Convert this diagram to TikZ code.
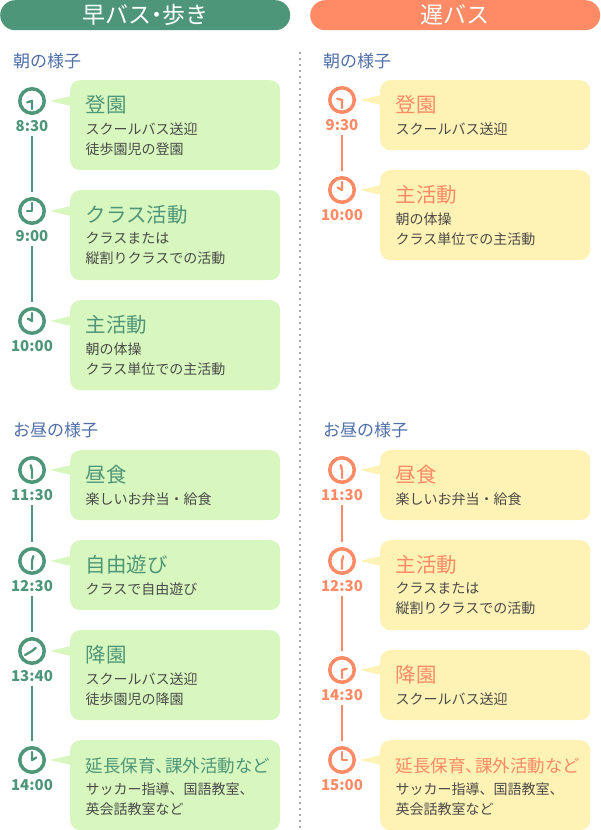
\documentclass[tikz,border=0pt]{standalone}
\usepackage{fontspec}
\setmainfont{Noto Sans CJK JP}
\usetikzlibrary{positioning,calc}

\definecolor{leafgreen}{HTML}{4E9679}
\definecolor{leafcard}{HTML}{D8F7BE}
\definecolor{salmon}{HTML}{FF8A66}
\definecolor{creamcard}{HTML}{FFF2B5}
\definecolor{sectionblue}{HTML}{4F6FA8}
\definecolor{bodygray}{HTML}{4A4A4A}
\definecolor{dotgray}{HTML}{A8A8A8}

% one time slot: name, clock y, card top, card height, hh, mm, time, title, text
\newcommand{\slot}[9]{
   \node[clock] (c#1) at (32,#2) {};
   \node[timelabel, below=2.5pt of c#1] (t#1) {#7};
   \node[card, minimum height=#4pt] (k#1) at (70,#3) {};
   \coordinate[left=20pt of k#1.west |- c#1] (p#1);
   \fill[cardfill] (p#1) -- ($(k#1.west |- c#1)+(1,-5)$) -- ($(k#1.west |- c#1)+(1,5)$) -- cycle;
   \node[cardtitle, anchor=west] (h#1) at ($(k#1.north west)+(15.5,27)$) {#8};
   \node[cardtext, below=5pt of h#1.south west, anchor=north west] (b#1) {#9};
   \draw[hand] ([shift={({90-30*#5-0.5*#6}:5pt)}]c#1.center) -- (c#1.center)
      -- ([shift={({90-6*#6}:8pt)}]c#1.center);
}
% the longest card title
\newcommand{\longtitle}{\fontsize{17.5}{18}\selectfont 延長保育、\kern-8pt 課外活動など}

\begin{document}
\begin{tikzpicture}[x=1pt,y=-1pt,
      clock/.style = {circle,draw=accent,line width=3.5pt,outer sep=0pt,minimum size=24.5pt,inner sep=0pt},
      timelabel/.style = {text=accent,font=\fontsize{15}{15}\selectfont\bfseries,minimum height=20pt,inner sep=0pt},
      card/.style = {fill=cardfill,rounded corners=10pt,minimum width=210pt,anchor=north west,inner sep=0pt},
      cardtitle/.style = {text=accent,font=\fontsize{20.5}{20}\selectfont,inner sep=0pt,text height=15pt,text depth=5pt},
      cardtext/.style = {text=bodygray,font=\fontsize{14}{20}\selectfont,inner sep=0pt,align=left,text depth=3pt},
      pill/.style = {fill=accent,text=white,font=\fontsize{23}{23}\selectfont,rounded corners=15pt,
         minimum width=290pt,minimum height=30pt,inner sep=0pt,anchor=north west},
      sectionhead/.style = {text=sectionblue,font=\fontsize{17}{17}\selectfont,inner sep=0pt,anchor=west},
      link/.style = {draw=accent,line width=2pt,shorten >=6.5pt},
      hand/.style = {draw=accent,line width=2.3pt,line cap=round,line join=round},
      divider/.style = {draw=dotgray,line width=2pt,dash pattern=on 2pt off 4pt}]

   \useasboundingbox (0,0) rectangle (600,830);

   % divider between the two columns
   \coordinate (divtop) at (300,52);
   \coordinate (divbot) at (300,830);
   \draw[divider] (divtop) -- (divbot);

   % early bus and walking
   \begin{scope}
      \colorlet{accent}{leafgreen}
      \colorlet{cardfill}{leafcard}
      \node[pill] (early) at (0,0) {早バス\kern-6pt ・\kern-6pt 歩き};
      \node[sectionhead] (earlyam) at (13,61) {朝の様子};
      \node[sectionhead] (earlypm) at (13,430) {お昼の様子};

      \slot{830}{101}{80}{90}{8}{30}{8:30}{登園}{スクールバス送迎\\徒歩園児の登園}
      \slot{900}{211}{190}{90}{9}{0}{9:00}{クラス活動}{クラスまたは\\縦割りクラスでの活動}
      \slot{1000}{321}{300}{90}{10}{0}{10:00}{主活動}{朝の体操\\クラス単位での主活動}
      \slot{1130}{470}{450}{70}{11}{30}{11:30}{昼食}{楽しいお弁当・給食}
      \slot{1230}{561}{540}{70}{12}{30}{12:30}{自由遊び}{クラスで自由遊び}
      \slot{1340}{651}{630}{90}{13}{40}{13:40}{降園}{スクールバス送迎\\徒歩園児の降園}
      \slot{1400}{760}{740}{90}{14}{0}{14:00}{\longtitle}{サッカー指導、国語教室、\\英会話教室など}

      \draw[link] (t830) -- (c900);
      \draw[link] (t900) -- (c1000);
      \draw[link] (t1130) -- (c1230);
      \draw[link] (t1230) -- (c1340);
      \draw[link] (t1340) -- (c1400);
   \end{scope}

   % late bus
   \begin{scope}[xshift=310pt]
      \colorlet{accent}{salmon}
      \colorlet{cardfill}{creamcard}
      \node[pill] (late) at (0,0) {遅バス};
      \node[sectionhead] (lateam) at (13,61) {朝の様子};
      \node[sectionhead] (latepm) at (13,430) {お昼の様子};

      \slot{r930}{100}{80}{70}{9}{30}{9:30}{登園}{スクールバス送迎}
      \slot{r1000}{190}{170}{90}{10}{0}{10:00}{主活動}{朝の体操\\クラス単位での主活動}
      \slot{r1130}{470}{450}{70}{11}{30}{11:30}{昼食}{楽しいお弁当・給食}
      \slot{r1230}{561}{540}{90}{12}{30}{12:30}{主活動}{クラスまたは\\縦割りクラスでの活動}
      \slot{r1430}{670}{650}{70}{14}{30}{14:30}{降園}{スクールバス送迎}
      \slot{r1500}{760}{740}{90}{15}{0}{15:00}{\longtitle}{サッカー指導、国語教室、\\英会話教室など}

      \draw[link] (tr930) -- (cr1000);
      \draw[link] (tr1130) -- (cr1230);
      \draw[link] (tr1230) -- (cr1430);
      \draw[link] (tr1430) -- (cr1500);
   \end{scope}
\end{tikzpicture}
\end{document}
